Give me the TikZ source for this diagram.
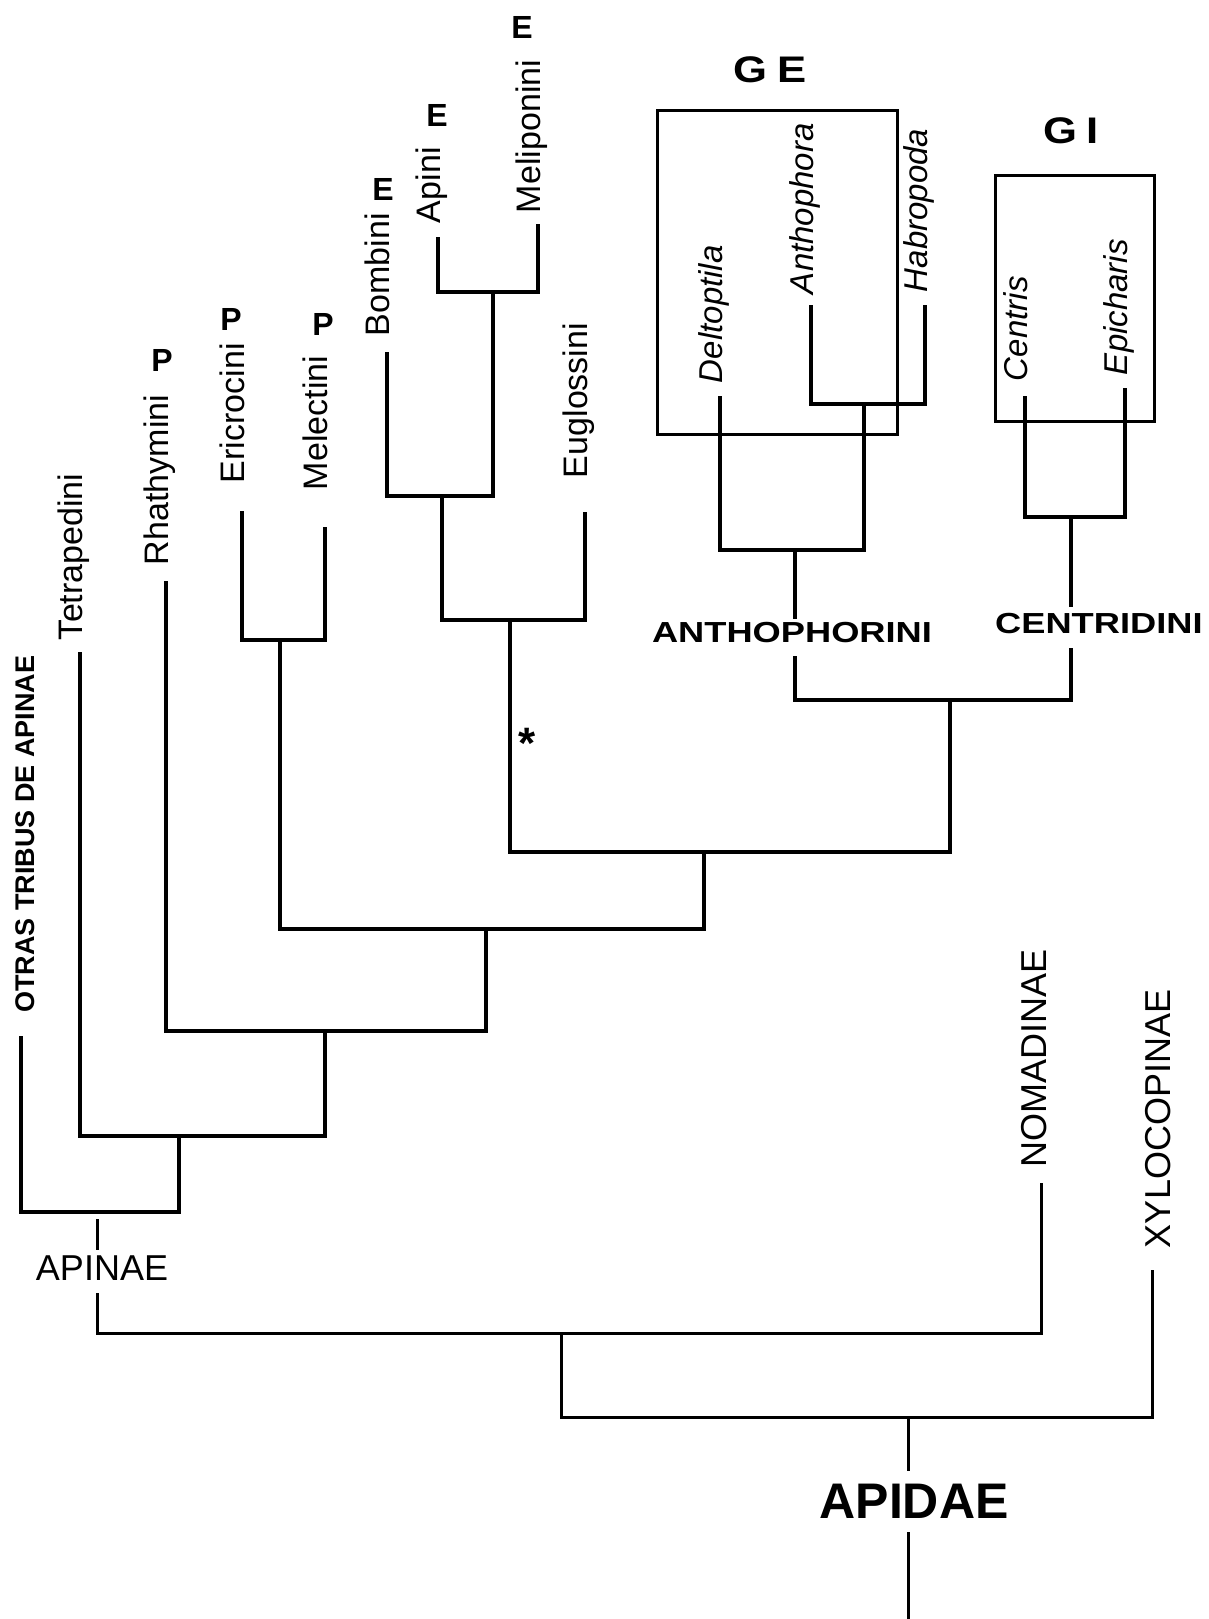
\documentclass[tikz,border=0pt]{standalone}
\usepackage{fontspec}
\setmainfont{Liberation Sans}
\begin{document}
\begin{tikzpicture}[x=1pt,y=-1pt,
  br/.style={line width=3.6pt},
  brthin/.style={line width=3pt},
  boxline/.style={draw,line width=3pt,inner sep=0pt},
  tx/.style={rotate=90,anchor=mid west,inner sep=0pt,outer sep=0pt,font=\fontsize{34}{40}\selectfont},
  itx/.style={tx,font=\fontsize{33}{40}\selectfont\itshape},
  capsl/.style={rotate=90,anchor=west,inner sep=0pt,outer sep=0pt,font=\fontsize{36}{40}\selectfont},
  mk/.style={inner sep=0pt,font=\fontsize{32}{36}\selectfont\bfseries},
  wide/.style={inner sep=0pt,font=\fontsize{29}{32}\selectfont\bfseries},
  grp/.style={inner sep=0pt,font=\fontsize{37}{40}\selectfont\bfseries},
]
\fill[white] (0,0) rectangle (1208,1619);
\useasboundingbox (0,0) rectangle (1208,1619);

% leaf tips
\coordinate (otras) at (21,1036);
\coordinate (tetra) at (80,652);
\coordinate (rhat) at (166,581);
\coordinate (eric) at (242,511);
\coordinate (mele) at (325,527);
\coordinate (bomb) at (387,352);
\coordinate (apin) at (438,237);
\coordinate (meli) at (538,224);
\coordinate (eugl) at (585,512);
\coordinate (delt) at (720,396);
\coordinate (anth) at (811,305);
\coordinate (habr) at (925,305);
\coordinate (cent) at (1025,396);
\coordinate (epic) at (1125,388);
\coordinate (noma) at (1041,1183);
\coordinate (xylo) at (1152,1270);

% junctions
\coordinate (jam) at (493,292);
\coordinate (jbam) at (442,496);
\coordinate (jcorb) at (510,620);
\coordinate (jah) at (864,404);
\coordinate (janth) at (795,550);
\coordinate (jce) at (1071,517);
\coordinate (anthTop) at (795,619);
\coordinate (anthBot) at (795,656);
\coordinate (centTop) at (1071,607);
\coordinate (centBot) at (1071,648);
\coordinate (jac) at (950,700);
\coordinate (japi) at (704,852);
\coordinate (jem) at (280,640);
\coordinate (j3) at (486,929);
\coordinate (j4) at (325,1031);
\coordinate (j5) at (179,1136);
\coordinate (j6) at (97,1212);
\coordinate (apTickTop) at (97,1219);
\coordinate (apTickBot) at (97,1250);
\coordinate (apBot) at (97,1293);
\coordinate (j7) at (561,1333);
\coordinate (j8) at (908,1417);
\coordinate (apidTop) at (908,1471);
\coordinate (apidBot) at (908,1532);
\coordinate (apidEnd) at (908,1619);

% boxes
\node[boxline,minimum width=240pt,minimum height=324pt] (geBox) at (777,272) {};
\node[boxline,minimum width=159pt,minimum height=246pt] (giBox) at (1074.5,298) {};

% branches
\draw[br] (apin) |- (jam) -| (meli);
\draw[br] (bomb) |- (jbam) -| (jam);
\draw[br] (jbam) |- (jcorb) -| (eugl);
\draw[br] (anth) |- (jah) -| (habr);
\draw[br] (delt) |- (janth) -| (jah);
\draw[br] (cent) |- (jce) -| (epic);
\draw[br] (janth) -- (anthTop);
\draw[br] (jce) -- (centTop);
\draw[br] (anthBot) |- (jac) -| (centBot);
\draw[br] (jcorb) |- (japi) -| (jac);
\draw[br] (eric) |- (jem) -| (mele);
\draw[br] (jem) |- (j3) -| (japi);
\draw[br] (rhat) |- (j4) -| (j3);
\draw[br] (tetra) |- (j5) -| (j4);
\draw[br] (otras) |- (j6) -| (j5);
\draw[brthin] (apTickTop) -- (apTickBot);
\draw[brthin] (apBot) |- (j7) -| (noma);
\draw[brthin] (j7) |- (j8) -| (xylo);
\draw[brthin] (j8) -- (apidTop);
\draw[brthin] (apidBot) -- (apidEnd);

% leaf labels
\node[tx] (tetraL) at (80,640) {Tetrapedini};
\node[tx] (rhatL) at (166,565) {Rhathymini};
\node[tx] (ericL) at (242,483) {Ericrocini};
\node[tx] (meleL) at (325,490) {Melectini};
\node[tx] (bombL) at (387,336) {Bombini};
\node[tx] (apinL) at (438,223) {Apini};
\node[tx] (meliL) at (538,213) {Meliponini};
\node[tx] (euglL) at (585,478) {Euglossini};
\node[itx] (deltL) at (720,383) {Deltoptila};
\node[itx] (anthL) at (811,294) {Anthophora};
\node[itx] (habrL) at (925,292) {Habropoda};
\node[itx] (centL) at (1025,381) {Centris};
\node[itx] (epicL) at (1125,375) {Epicharis};
\node[capsl] (nomaL) at (1034,1167) {NOMADINAE};
\node[capsl] (xyloL) at (1158,1248) {XYLOCOPINAE};
\node[rotate=90,anchor=west,inner sep=0pt,font=\fontsize{27}{30}\selectfont\bfseries] (otrasL) at (25,1013) {OTRAS TRIBUS DE APINAE};

% markers
\node[mk] (pR) at (162,360) {P};
\node[mk] (pE) at (231,319) {P};
\node[mk] (pM) at (323,324) {P};
\node[mk] (eB) at (383,189) {E};
\node[mk] (eA) at (437,115) {E};
\node[mk] (eM) at (522,27) {E};
\node[inner sep=0pt,anchor=base,font=\fontsize{44}{44}\selectfont\bfseries] (ast) at (527,758) {*};

% group labels
\node[wide] (anthoL) at (792,633) {\scalebox{1.25}[1]{ANTHOPHORINI}};
\node[wide,anchor=west] (centriL) at (995,624) {\scalebox{1.25}[1]{CENTRIDINI}};
\node[inner sep=0pt,font=\fontsize{36}{40}\selectfont] (apinaeL) at (102,1268) {APINAE};
\node[inner sep=0pt,font=\fontsize{50}{54}\selectfont\bfseries] (apidaeL) at (914,1501) {APIDAE};
\node[grp] (geL) at (770,70) {\scalebox{1.18}[1]{G\hspace{8pt}E}};
\node[grp] (giL) at (1071,131) {\scalebox{1.18}[1]{G\hspace{8pt}I}};
\end{tikzpicture}
\end{document}
